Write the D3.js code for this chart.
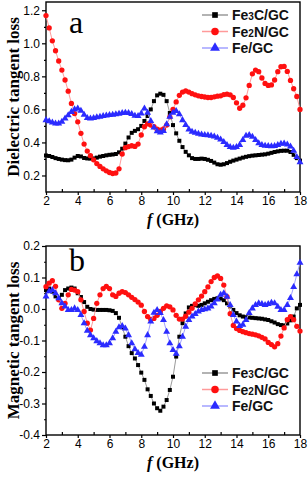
<!DOCTYPE html>
<html>
<head>
<meta charset="utf-8">
<script src="https://cdn.jsdelivr.net/npm/d3@7/dist/d3.min.js"></script>
<style>
body { margin: 0; background: #fff; }
svg { display: block; }
.tick text { font-family: Arial, "Liberation Sans", sans-serif; font-size: 12px; fill: #000; }
.title { font-family: "Liberation Serif", "Times New Roman", serif; font-weight: bold; font-size: 17px; }
.xtitle { font-size: 16px; }
.leg { font-family: Arial, "Liberation Sans", sans-serif; font-size: 14px; font-weight: bold; fill: #111; }
</style>
</head>
<body>
<div id="chart"></div>
<script>
// frequency grid (GHz)
var freq = [2,2.2,2.4,2.6,2.8,3,3.2,3.4,3.6,3.8,4,4.2,4.4,4.6,4.8,5,5.2,5.4,5.6,5.8,
  6,6.2,6.4,6.6,6.8,7,7.2,7.4,7.6,7.8,8,8.2,8.4,8.6,8.8,9,9.2,9.4,9.6,9.8,
  10,10.2,10.4,10.6,10.8,11,11.2,11.4,11.6,11.8,12,12.2,12.4,12.6,12.8,13,13.2,13.4,13.6,13.8,
  14,14.2,14.4,14.6,14.8,15,15.2,15.4,15.6,15.8,16,16.2,16.4,16.6,16.8,17,17.2,17.4,17.6,17.8,18];

// (a) dielectric tangent loss
var dielFe3C = [0.321,0.318,0.312,0.305,0.300,0.296,0.293,0.292,0.296,0.308,
  0.318,0.315,0.306,0.303,0.302,0.303,0.308,0.314,0.318,0.322,
  0.325,0.327,0.330,0.340,0.362,0.393,0.430,0.458,0.470,0.480,
  0.500,0.530,0.560,0.600,0.650,0.685,0.695,0.688,0.650,0.578,
  0.505,0.455,0.410,0.372,0.343,0.322,0.305,0.300,0.300,0.302,
  0.300,0.295,0.288,0.278,0.268,0.265,0.268,0.275,0.283,0.290,
  0.296,0.302,0.308,0.313,0.317,0.320,0.322,0.324,0.326,0.328,
  0.332,0.337,0.342,0.346,0.349,0.350,0.350,0.342,0.325,0.305,0.290];
var dielFe2N = [1.168,1.093,1.015,0.955,0.893,0.838,0.778,0.710,0.636,0.575,
  0.525,0.455,0.390,0.348,0.320,0.295,0.272,0.255,0.240,0.228,
  0.218,0.212,0.215,0.240,0.330,0.368,0.375,0.380,0.376,0.390,
  0.445,0.495,0.512,0.505,0.495,0.480,0.474,0.482,0.505,0.555,
  0.600,0.645,0.685,0.705,0.712,0.705,0.695,0.688,0.682,0.678,
  0.675,0.672,0.672,0.676,0.680,0.682,0.690,0.692,0.688,0.672,
  0.640,0.607,0.625,0.670,0.745,0.815,0.838,0.828,0.790,0.757,
  0.745,0.748,0.778,0.828,0.858,0.860,0.830,0.775,0.725,0.678,0.600];
var dielFe = [0.535,0.528,0.520,0.515,0.514,0.525,0.545,0.565,0.585,0.600,
  0.605,0.592,0.568,0.548,0.545,0.548,0.552,0.556,0.560,0.563,
  0.566,0.568,0.570,0.573,0.578,0.580,0.578,0.572,0.562,0.560,
  0.575,0.605,0.580,0.530,0.490,0.468,0.460,0.470,0.510,0.555,
  0.580,0.590,0.570,0.535,0.505,0.478,0.465,0.458,0.452,0.448,
  0.445,0.443,0.440,0.436,0.428,0.418,0.402,0.385,0.372,0.368,
  0.372,0.385,0.415,0.440,0.445,0.435,0.415,0.395,0.384,0.380,
  0.378,0.377,0.378,0.385,0.392,0.393,0.388,0.375,0.350,0.312,0.280];

// (b) magnetic tangent loss
var magFe3C = [0.060,0.065,0.055,0.040,0.034,0.045,0.060,0.065,0.068,0.065,
  0.050,0.038,0.022,0.007,0.000,-0.002,-0.003,-0.003,-0.003,-0.003,
  -0.004,-0.006,-0.013,-0.028,-0.058,-0.088,-0.118,-0.140,-0.157,-0.178,
  -0.202,-0.225,-0.255,-0.276,-0.300,-0.315,-0.323,-0.310,-0.289,-0.257,
  -0.215,-0.151,-0.088,-0.045,-0.014,0.005,0.010,0.012,0.010,0.013,
  0.018,0.023,0.028,0.032,0.034,0.033,0.028,0.018,0.008,-0.003,
  -0.013,-0.020,-0.024,-0.026,-0.027,-0.028,-0.029,-0.030,-0.031,-0.033,
  -0.035,-0.039,-0.043,-0.048,-0.051,-0.052,-0.046,-0.036,-0.024,0.002,0.013];
var magFe2N = [0.071,0.082,0.090,0.072,0.029,0.002,0.018,0.045,0.062,0.060,
  0.055,0.029,-0.008,-0.045,-0.067,-0.030,0.018,0.045,0.065,0.072,
  0.065,0.045,0.040,0.050,0.055,0.052,0.045,0.037,0.030,0.022,
  0.012,-0.008,-0.024,-0.033,-0.030,-0.020,-0.008,0.002,0.010,0.007,
  -0.003,-0.020,-0.032,-0.032,-0.023,-0.010,0.002,0.016,0.029,0.041,
  0.055,0.070,0.087,0.100,0.105,0.097,0.076,0.039,-0.015,-0.052,
  -0.062,-0.068,-0.072,-0.075,-0.078,-0.080,-0.082,-0.085,-0.090,-0.095,
  -0.106,-0.113,-0.120,-0.110,-0.086,-0.060,-0.034,-0.024,-0.034,-0.055,-0.070];
var magFe = [0.040,0.056,0.060,0.050,0.034,0.018,0.008,-0.003,-0.003,0.002,
  -0.003,-0.019,-0.045,-0.069,-0.083,-0.093,-0.102,-0.109,-0.115,-0.115,
  -0.109,-0.093,-0.072,-0.058,-0.054,-0.062,-0.083,-0.109,-0.128,-0.140,
  -0.145,-0.120,-0.083,-0.040,-0.012,-0.003,-0.013,-0.035,-0.072,-0.109,
  -0.130,-0.142,-0.118,-0.088,-0.056,-0.035,-0.024,-0.016,-0.008,-0.003,
  -0.001,0.002,0.008,0.018,0.030,0.045,0.050,0.039,0.013,-0.019,
  -0.040,-0.054,-0.050,-0.035,-0.013,0.002,0.013,0.018,0.016,0.013,
  0.016,0.020,0.018,0.007,-0.003,-0.003,0.013,0.035,0.070,0.110,0.147];

var xTicks = [2, 4, 6, 8, 10, 12, 14, 16, 18];
var xMinor = [3, 5, 7, 9, 11, 13, 15, 17];
var dielTicks = [0.2, 0.4, 0.6, 0.8, 1.0, 1.2];
var dielMinor = [0.3, 0.5, 0.7, 0.9, 1.1];
var magTicks = [-0.4, -0.3, -0.2, -0.1, 0.0, 0.1, 0.2];
var magMinor = [-0.35, -0.25, -0.15, -0.05, 0.05, 0.15];

var legendNames = [["Fe", "3", "C/GC"], ["Fe", "2", "N/GC"], ["Fe/GC", "", ""]];

var width = 308, height = 478;
var left = 46, right = 300;

var svg = d3.select('#chart').append('svg')
  .attr('width', width)
  .attr('height', height);

var styles = [
  { marker: d3.symbolSquare, size: 16, fill: '#000', line: '#9a9a9a' },
  { marker: d3.symbolCircle, size: 22, fill: '#ff1010', line: '#ff9a9a' },
  { marker: d3.symbolTriangle, size: 21, fill: '#2b2bff', line: '#a0a0ff' }
];

var fmt = function (d) { return d3.format('.1f')(d).replace('\u2212', '-'); };

var x = d3.scaleLinear().domain([2, 18]).range([left, right]);

function panel(top, bottom, yDomain, ticks, minor, series, label, ytitle, legY, labelY) {
  var y = d3.scaleLinear().domain(yDomain).range([bottom, top]);
  var g = svg.append('g');

  // x axis
  g.append('g').attr('transform', 'translate(0,' + bottom + ')')
    .call(d3.axisBottom(x).tickValues(xTicks).tickSize(3).tickSizeOuter(0).tickPadding(1))
    .call(function (a) { a.select('.domain').remove(); });
  g.append('g').attr('transform', 'translate(0,' + bottom + ')')
    .call(d3.axisBottom(x).tickValues(xMinor).tickSize(-3).tickFormat(''))
    .call(function (a) { a.select('.domain').remove(); });

  // y axis
  g.append('g').attr('transform', 'translate(' + left + ',0)')
    .call(d3.axisLeft(y).tickValues(ticks).tickSize(4).tickPadding(2).tickFormat(fmt))
    .call(function (a) { a.select('.domain').remove(); });
  g.append('g').attr('transform', 'translate(' + left + ',0)')
    .call(d3.axisLeft(y).tickValues(minor).tickSize(2).tickFormat(''))
    .call(function (a) { a.select('.domain').remove(); });

  g.selectAll('.tick line').attr('stroke', '#000').attr('stroke-width', 1.2);

  // frame
  g.append('rect')
    .attr('x', left).attr('y', top)
    .attr('width', right - left).attr('height', bottom - top)
    .attr('fill', 'none').attr('stroke', '#000').attr('stroke-width', 1.4);

  var line = d3.line().x(function (d, i) { return x(freq[i]); }).y(function (d) { return y(d); });

  series.forEach(function (vals, k) {
    var st = styles[k];
    g.append('path').datum(vals)
      .attr('d', line)
      .attr('fill', 'none')
      .attr('stroke', st.line)
      .attr('stroke-width', 1);
    g.selectAll('.m' + k).data(vals).enter()
      .append('path')
      .attr('class', 'm' + k)
      .attr('transform', function (d, i) { return 'translate(' + x(freq[i]) + ',' + y(d) + ')'; })
      .attr('d', d3.symbol().type(st.marker).size(st.size))
      .attr('fill', st.fill);
  });

  // panel letter
  g.append('text')
    .attr('x', 69).attr('y', labelY)
    .attr('font-family', '"Liberation Serif", "Times New Roman", serif')
    .attr('font-size', 32)
    .text(label);

  // legend
  legendNames.forEach(function (nm, k) {
    var st = styles[k];
    var ly = legY + k * 16.5;
    g.append('line')
      .attr('x1', 202).attr('x2', 228).attr('y1', ly).attr('y2', ly)
      .attr('stroke', st.line).attr('stroke-width', 1.5);
    g.append('path')
      .attr('transform', 'translate(215,' + ly + ')')
      .attr('d', d3.symbol().type(st.marker).size(st.size * 2))
      .attr('fill', st.fill);
    var t = g.append('text').attr('class', 'leg').attr('x', 232).attr('y', ly + 5);
    t.append('tspan').text(nm[0]);
    if (nm[1]) t.append('tspan').attr('font-size', 10).text(nm[1]);
    if (nm[2]) t.append('tspan').text(nm[2]);
  });

  // axis titles
  g.append('text').attr('class', 'title')
    .attr('transform', 'translate(19,' + ((top + bottom) / 2) + ') rotate(-90)')
    .attr('text-anchor', 'middle')
    .text(ytitle);

  var xt = g.append('text').attr('class', 'title xtitle')
    .attr('x', (left + right) / 2).attr('y', bottom + 33)
    .attr('text-anchor', 'middle');
  xt.append('tspan').attr('font-style', 'italic').text('f');
  xt.append('tspan').text(' (GHz)');
}

panel(2, 192, [0.1, 1.25], dielTicks, dielMinor,
  [dielFe3C, dielFe2N, dielFe], 'a', 'Dielectric tangent loss', 15, 33);

panel(246, 435, [-0.4, 0.2], magTicks, magMinor,
  [magFe3C, magFe2N, magFe], 'b', 'Magnetic tangent loss', 373, 271);
</script>
</body>
</html>
